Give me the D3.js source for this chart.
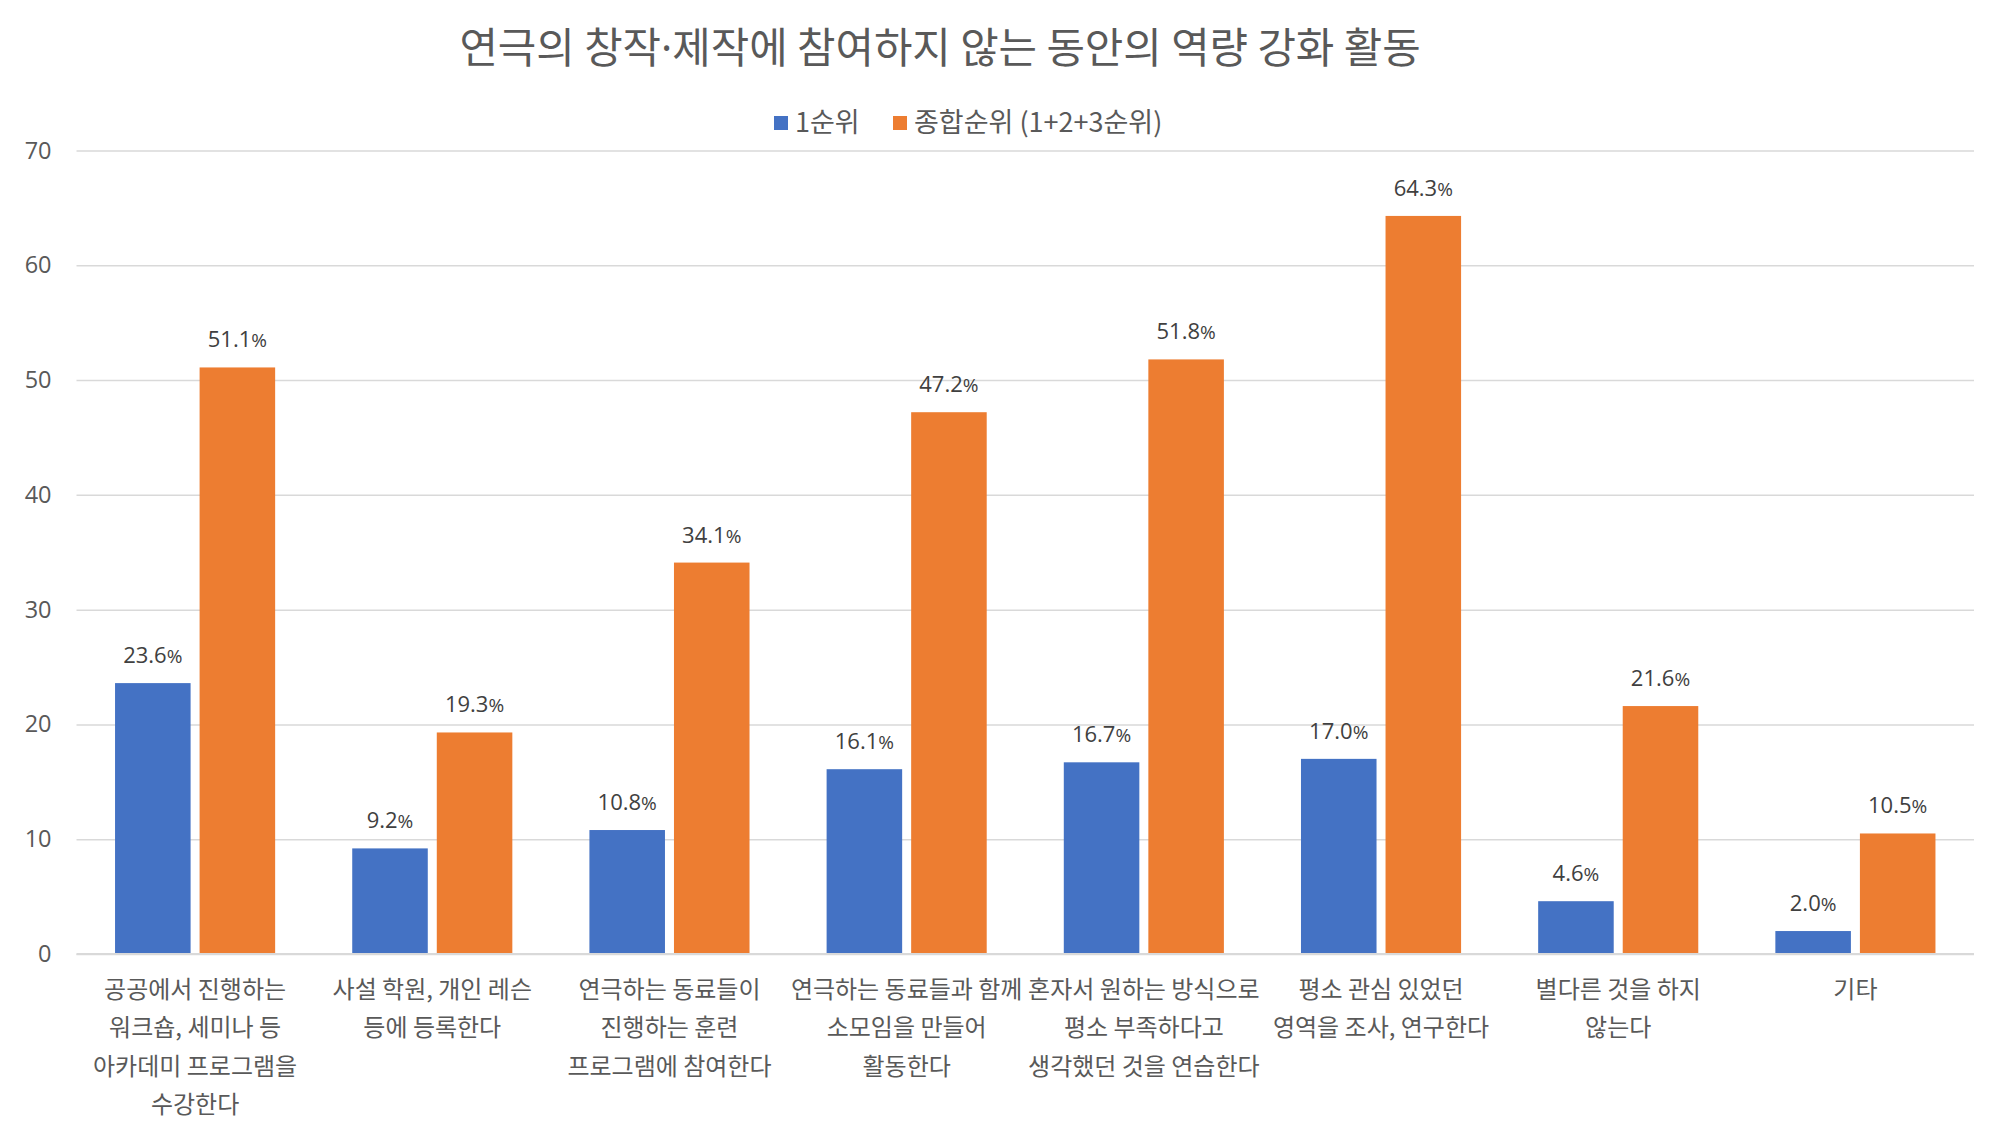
<!DOCTYPE html>
<html><head><meta charset="utf-8">
<script src="https://cdn.jsdelivr.net/npm/d3@7"></script>
<style>
html,body{margin:0;padding:0;background:#fff;}
svg text{font-family:"Noto Sans CJK KR","Noto Sans",sans-serif;}
</style></head>
<body><svg id="c" width="2000" height="1125"></svg>
<script>
const categories = ["공공에서 진행하는 워크숍, 세미나 등 아카데미 프로그램을 수강한다","사설 학원, 개인 레슨 등에 등록한다","연극하는 동료들이 진행하는 훈련 프로그램에 참여한다","연극하는 동료들과 함께 소모임을 만들어 활동한다","혼자서 원하는 방식으로 평소 부족하다고 생각했던 것을 연습한다","평소 관심 있었던 영역을 조사, 연구한다","별다른 것을 하지 않는다","기타"];
const categoryLines = [
  ["공공에서 진행하는","워크숍, 세미나 등","아카데미 프로그램을","수강한다"],
  ["사설 학원, 개인 레슨","등에 등록한다"],
  ["연극하는 동료들이","진행하는 훈련","프로그램에 참여한다"],
  ["연극하는 동료들과 함께","소모임을 만들어","활동한다"],
  ["혼자서 원하는 방식으로","평소 부족하다고","생각했던 것을 연습한다"],
  ["평소 관심 있었던","영역을 조사, 연구한다"],
  ["별다른 것을 하지","않는다"],
  ["기타"]
];
const seriesNames = ["1순위","종합순위 (1+2+3순위)"];
const rank1 = [23.6, 9.2, 10.8, 16.1, 16.7, 17.0, 4.6, 2.0];
const rankTotal = [51.1, 19.3, 34.1, 47.2, 51.8, 64.3, 21.6, 10.5];
const yTicks = [0,10,20,30,40,50,60,70];
const titleParts = ["연극의 창작","·","제작에 참여하지 않는 동안의 역량 강화 활동"];
const colors = ["#4472C4","#ED7D31"];

const svg = d3.select("#c");
const pLeft = 76.5, pRight = 1974, pTop = 150.5, pBottom = 954;
const textColor = "#595959";

const x0 = d3.scaleBand().domain(categories).range([pLeft,pRight]).paddingInner(0.325).paddingOuter(0.1625);
const x1 = d3.scaleBand().domain(seriesNames).range([0,x0.bandwidth()]).paddingInner(0.1065).paddingOuter(0);
const y = d3.scaleLinear().domain([0,70]).range([pBottom,pTop]);

// gridlines
const yAxis = d3.axisLeft(y).tickValues(yTicks).tickSize(-(pRight-pLeft)).tickPadding(25).tickFormat(d3.format("d"));
const gy = svg.append("g").attr("transform",`translate(${pLeft},0)`).call(yAxis);
gy.select(".domain").remove();
gy.selectAll(".tick line").attr("stroke","#d9d9d9").attr("stroke-width",1.5);
gy.selectAll(".tick text").attr("fill",textColor).style("font-size","23.5px").style("font-family","'Open Sans','Noto Sans',sans-serif");

// bars
const data = categories.map((c,i)=>({c, vals:[rank1[i], rankTotal[i]]}));
const groups = svg.append("g").selectAll("g").data(data).join("g")
  .attr("transform",d=>`translate(${x0(d.c)},0)`);
groups.selectAll("rect").data(d=>d.vals.map((v,j)=>({v,s:seriesNames[j],j}))).join("rect")
  .attr("x",d=>x1(d.s)).attr("width",x1.bandwidth())
  .attr("y",d=>y(d.v)).attr("height",d=>y(0)-y(d.v))
  .attr("fill",d=>colors[d.j]);
const lbl = groups.selectAll("text.lbl").data(d=>d.vals.map((v,j)=>({v,s:seriesNames[j],j}))).join("text")
  .attr("class","lbl")
  .attr("x",d=>x1(d.s)+x1.bandwidth()/2).attr("y",d=>y(d.v)-20)
  .attr("text-anchor","middle").attr("fill","#404040")
  .style("font-size","22px").style("font-family","'Open Sans','Noto Sans',sans-serif");
lbl.append("tspan").text(d=>d3.format(".1f")(d.v));
lbl.append("tspan").style("font-size","19px").text("%");

// zero axis line
svg.append("line").attr("x1",pLeft).attr("x2",pRight).attr("y1",y(0)).attr("y2",y(0)).attr("stroke","#d9d9d9").attr("stroke-width",2);

// category labels
const cl = svg.append("g").selectAll("text").data(categories).join("text")
  .attr("text-anchor","middle").attr("fill",textColor).style("font-size","24px")
  .attr("x",d=>x0(d)+x0.bandwidth()/2);
cl.each(function(d,i){
  d3.select(this).selectAll("tspan").data(categoryLines[i]).join("tspan")
    .attr("x",x0(d)+x0.bandwidth()/2)
    .attr("y",(t,k)=>998+k*38.3)
    .text(t=>t);
});

// title
const tt = svg.append("text").attr("x",940).attr("y",63).attr("text-anchor","middle")
  .attr("fill",textColor).style("font-size","41.8px");
titleParts.forEach((p,i)=>{
  const ts = tt.append("tspan").text(p);
  if(i===1) ts.style("font-family","'Noto Sans',sans-serif");
});

// legend
const legend = svg.append("g");
const legendX = [774, 893];
seriesNames.forEach((s,i)=>{
  legend.append("rect").attr("x",legendX[i]).attr("y",116).attr("width",14).attr("height",14).attr("fill",colors[i]);
  legend.append("text").attr("x",legendX[i]+21).attr("y",132).attr("fill",textColor).style("font-size","27px").text(s);
});
</script></body></html>
